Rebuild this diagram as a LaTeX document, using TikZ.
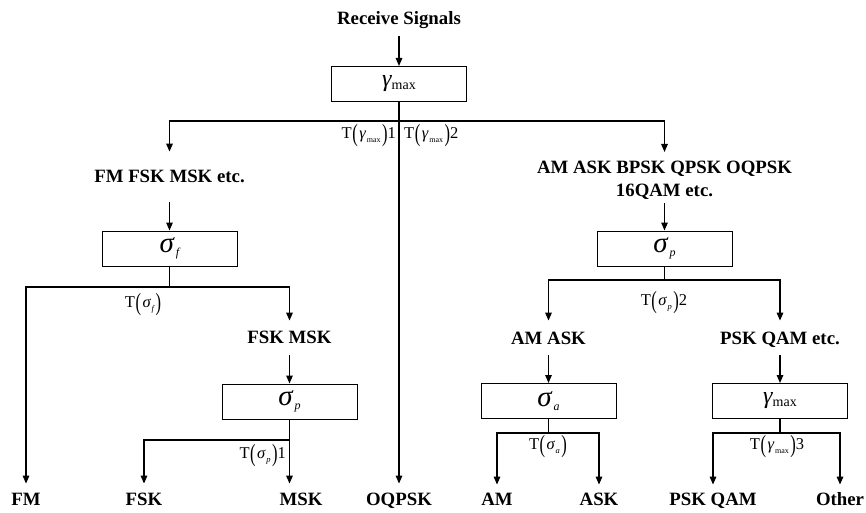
\documentclass[tikz,border=0pt]{standalone}
\usepackage{fontspec}
\usepackage{graphicx}
\setmainfont{Liberation Serif}
\usetikzlibrary{arrows.meta}
\newcommand{\gam}{{\itshape γ}}
\newcommand{\sig}{{\itshape σ}}
\newcommand{\boxgmax}{{\fontsize{24}{24}\selectfont\gam}\raisebox{-0.55ex}{\fontsize{14}{14}\selectfont max}}
\newcommand{\boxsig}[1]{\raisebox{-0.4ex}{\fontsize{29}{29}\selectfont\sig}\hspace{2pt}\raisebox{-1.2ex}{\fontsize{12}{12}\selectfont\itshape #1}}
\newcommand{\lpar}{\raisebox{-0.4ex}{\scalebox{1}[1.5]{(}}}
\newcommand{\rpar}{\raisebox{-0.4ex}{\scalebox{1}[1.5]{)}}}
\newcommand{\Tlab}[2]{T\hspace{0.5pt}\lpar\hspace{1.5pt}#1\hspace{1.5pt}\rpar #2}
\newcommand{\lgmax}{\gam\hspace{1pt}\raisebox{-0.5ex}{\fontsize{8}{8}\selectfont max}}
\newcommand{\lsig}[1]{\sig\hspace{1pt}\raisebox{-0.5ex}{\fontsize{8.5}{8.5}\selectfont\itshape #1}}
\begin{document}
\begin{tikzpicture}[x=1pt,y=-1pt,
  txt/.style={font=\fontsize{18.8}{23}\selectfont\bfseries, inner sep=0pt, text height=13pt, text depth=0pt},
  txttwo/.style={font=\fontsize{18.8}{23}\selectfont\bfseries, inner sep=0pt, align=center},
  bx/.style={draw, line width=1pt, minimum width=135pt, minimum height=35pt, inner sep=0pt},
  lab/.style={font=\fontsize{16.5}{18}\selectfont, inner sep=0pt},
  ln/.style={line width=1.4pt},
  arr/.style={line width=1.4pt, -{Triangle[length=8pt,width=6.5pt]}}]
\useasboundingbox[fill=white] (0,0) rectangle (866,513);

% top level
\node[txt, anchor=south] (rs) at (399,24.5) {Receive Signals};
\node[bx] (b0) at (399,84) {\boxgmax};
\coordinate (j0) at (399,121);
\draw[arr, shorten <=12pt] (rs.south) -- (b0.north);
\draw[ln] (b0.south) -- (j0);
\node[lab, anchor=east] (l1) at (396,136) {\Tlab{\lgmax}{1}};
\node[lab, anchor=west] (l2) at (404,136) {\Tlab{\lgmax}{2}};
\node[txt, anchor=south] (oq) at (399,506) {OQPSK};
\draw[arr, shorten >=9pt] (j0) -- (oq.north);
\node[txt, anchor=south] (tL) at (169.5,183) {FM FSK MSK etc.};
\node[txttwo, anchor=north] (tR) at (664.5,160.5) {AM ASK BPSK QPSK OQPSK\\16QAM etc.};
\draw[arr, shorten >=18pt] (j0) -| (tL.north);
\draw[arr, shorten >=8.5pt] (j0) -| (tR.north);

% left subtree
\node[bx] (bf) at (169.5,248.5) {\boxsig{f}};
\draw[arr, shorten <=19pt] (tL.south) -- (bf.north);
\coordinate (jf) at (169.5,287);
\draw[ln] (bf.south) -- (jf);
\node[lab] (lf) at (143,305) {\Tlab{\lsig{f}}{}};
\node[txt, anchor=south] (fm) at (26,506) {FM};
\node[txt, anchor=south] (fskmsk) at (289.5,344) {FSK MSK};
\draw[arr, shorten >=9pt] (jf) -| (fm.north);
\draw[arr, shorten >=10pt] (jf) -| (fskmsk.north);
\node[bx] (bp1) at (289.5,401.5) {\boxsig{p}};
\draw[arr, shorten <=11pt] (fskmsk.south) -- (bp1.north);
\coordinate (jp1) at (289.5,440);
\draw[ln] (bp1.south) -- (jp1);
\node[lab, anchor=east] (lp1) at (286,456) {\Tlab{\lsig{p}}{1}};
\node[txt, anchor=south] (fsk) at (144,506) {FSK};
\node[txt, anchor=south] (msk) at (301,506) {MSK};
\draw[arr, shorten >=9pt] (jp1) -| (fsk.north);
\draw[arr, shorten >=9pt] (jp1) -- (jp1 |- msk.north);

% right subtree
\node[bx] (bp2) at (664.5,248.5) {\boxsig{p}};
\draw[arr, shorten <=4pt] (tR.south) -- (bp2.north);
\coordinate (jp2) at (664.5,280);
\draw[ln] (bp2.south) -- (jp2);
\node[lab] (lp2) at (664,303) {\Tlab{\lsig{p}}{2}};
\node[txt, anchor=south] (amask) at (548.5,345) {AM ASK};
\node[txt, anchor=south] (pskqam) at (780,345) {PSK QAM etc.};
\draw[arr, shorten >=11pt] (jp2) -| (amask.north);
\draw[arr, shorten >=11pt] (jp2) -| (pskqam.north);
\node[bx] (ba) at (548.5,401) {\boxsig{a}};
\node[bx] (bg) at (780,401) {\boxgmax};
\draw[arr, shorten <=10pt] (amask.south) -- (ba.north);
\draw[arr, shorten <=10pt] (pskqam.south) -- (bg.north);
\coordinate (ja) at (548.5,433);
\coordinate (jg) at (780,433);
\draw[ln] (ba.south) -- (ja);
\draw[ln] (bg.south) -- (jg);
\node[lab] (la) at (548,447) {\Tlab{\lsig{a}}{}};
\node[lab] (lg3) at (777,447) {\Tlab{\lgmax}{3}};
\node[txt, anchor=south] (am) at (497,506) {AM};
\node[txt, anchor=south] (ask) at (599,506) {ASK};
\node[txt, anchor=south] (psk) at (713,506) {PSK QAM};
\node[txt, anchor=south] (oth) at (840,506) {Other};
\draw[arr, shorten >=8pt] (ja) -| (am.north);
\draw[arr, shorten >=8pt] (ja) -| (ask.north);
\draw[arr, shorten >=8pt] (jg) -| (psk.north);
\draw[arr, shorten >=8pt] (jg) -| (oth.north);
\end{tikzpicture}
\end{document}
